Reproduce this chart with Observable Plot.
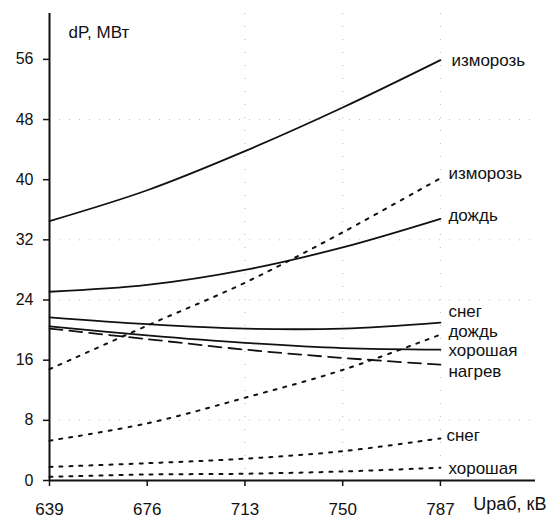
<!DOCTYPE html>
<html><head><meta charset="utf-8">
<script src="https://cdn.jsdelivr.net/npm/d3@7"></script>
<script src="https://cdn.jsdelivr.net/npm/@observablehq/plot@0.6"></script>
<style>body{margin:0;background:#fff}</style>
</head><body><div id="chart"></div>
<script>
// Data
const voltages = [639, 676, 713, 750, 787];
const yTicks = [0, 8, 16, 24, 32, 40, 48, 56];
const gridY = [8, 24, 32, 48];
const gridX = [713, 750, 787];

const frostSolid  = [34.5, 38.6, 43.8, 49.6, 55.9];
const frostDotted = [14.8, 20.6, 26.3, 33.0, 40.2];
const rainSolid   = [25.1, 26.0, 28.0, 31.0, 34.8];
const snowSolid   = [21.7, 20.8, 20.2, 20.2, 21.0];
const goodSolid   = [20.5, 19.3, 18.3, 17.6, 17.4];
const heatDashed  = [20.2, 18.8, 17.4, 16.3, 15.4];
const rainDotted  = [5.3, 7.6, 11.0, 14.7, 19.4];
const snowDotted  = [1.8, 2.3, 2.9, 3.9, 5.6];
const goodDotted  = [0.5, 0.8, 0.9, 1.2, 1.7];

const seriesKeys   = ["frostSolid","frostDotted","rainSolid","snowSolid","goodSolid","heatDashed","rainDotted","snowDotted","goodDotted"];
const seriesLabels = ["изморозь","изморозь","дождь","снег","хорошая","нагрев","дождь","снег","хорошая"];
const seriesValues = [frostSolid, frostDotted, rainSolid, snowSolid, goodSolid, heatDashed, rainDotted, snowDotted, goodDotted];
const seriesKinds  = ["solid","dotted","solid","solid","solid","dashed","dotted","dotted","dotted"];

// Label nudges (pixels), styling only
const labelDy = {frostSolid:0, frostDotted:-5, rainSolid:-3, snowSolid:-11, goodSolid:1, heatDashed:7, rainDotted:-3, snowDotted:-3, goodDotted:1};
const labelDx = {frostSolid:11, frostDotted:8, rainSolid:8, snowSolid:8, goodSolid:8, heatDashed:8, rainDotted:8, snowDotted:6, goodDotted:8};

const rows = [];
seriesKeys.forEach((k, i) => {
  voltages.forEach((v, j) => rows.push({key: k, kind: seriesKinds[i], x: v, y: seriesValues[i][j]}));
});
const ends = seriesKeys.map((k, i) => ({key: k, label: seriesLabels[i], x: voltages[voltages.length - 1], y: seriesValues[i][voltages.length - 1]}));

const dashes = {solid: null, dotted: "3,7", dashed: "13,7"};
const widths = {solid: 1.8, dotted: 2, dashed: 1.8};

const lineMarks = ["solid", "dotted", "dashed"].map(kind =>
  Plot.line(rows.filter(d => d.kind === kind), {
    x: "x", y: "y", z: "key", stroke: "#111", strokeWidth: widths[kind],
    strokeDasharray: dashes[kind], curve: "catmull-rom"
  })
);

const labelMarks = ends.map(e => Plot.text([e], {
  x: "x", y: "y", text: "label", textAnchor: "start",
  dx: labelDx[e.key], dy: labelDy[e.key], fontSize: 17, fill: "#111"
}));

const chart = Plot.plot({
  width: 555, height: 518,
  marginLeft: 49, marginRight: 20, marginTop: 13, marginBottom: 38,
  style: {fontFamily: "'Liberation Sans', Arial, sans-serif", background: "#fff", color: "#111"},
  x: {domain: [639, 823], ticks: voltages, tickFormat: d => String(d)},
  y: {domain: [0, 62.1], ticks: yTicks},
  marks: [
    Plot.ruleY(gridY, {stroke: "#bbb", strokeDasharray: "1,9", strokeWidth: 1}),
    Plot.ruleX(gridX, {stroke: "#bbb", strokeDasharray: "1,12", strokeWidth: 1}),
    Plot.axisY({ticks: yTicks, tickSize: 6, tickPadding: 10, fontSize: 16, label: null, stroke: "#111", strokeWidth: 1.5}),
    Plot.axisX({ticks: voltages, tickSize: 6, tickPadding: 16, fontSize: 17, label: null, stroke: "#111", strokeWidth: 1.5}),
    ...lineMarks,
    Plot.ruleX([639], {stroke: "#111", strokeWidth: 2}),
    Plot.ruleY([0], {stroke: "#111", strokeWidth: 2}),
    ...labelMarks,
    Plot.text(["dP, МВт"], {frameAnchor: "top-left", dx: 19, dy: 12, textAnchor: "start", fontSize: 17, fill: "#111"}),
    Plot.text(["Uраб, кВ"], {frameAnchor: "bottom-right", dx: 11, dy: 29, textAnchor: "end", fontSize: 18, fill: "#111"})
  ]
});
document.getElementById("chart").appendChild(chart);
</script>
</body></html>
